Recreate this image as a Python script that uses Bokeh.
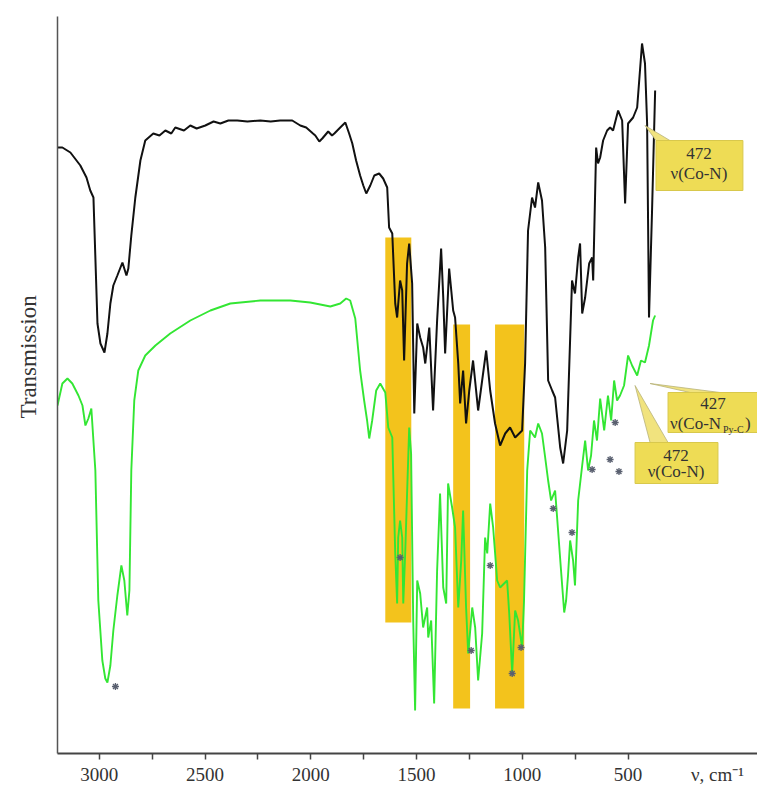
import math
from bokeh.plotting import figure
from bokeh.models import Range1d, FixedTicker, LinearAxis, Title
from bokeh.core.properties import value
from bokeh.embed import file_html
from bokeh.resources import INLINE

# ---- data (wavenumber, cm-1 ; transmission, arbitrary units) ----
black_wn = [3198,3175,3137,3090,3061,3043,3028,3009,2995,2976,2962,2948,2934,2915,2891,2872,2863,2849,2830,2806,
            2783,2745,2716,2688,2660,2641,2600,2570,2540,2499,2460,2428,2390,2348,2300,2239,2190,2145,2088,2050,
            2022,1990,1979,1960,1946,1918,1900,1889,1861,1837,1819,1804,1786,1767,1752,1738,1719,1700,1677,1658,
            1639,1630,1615,1601,1592,1578,1568,1559,1545,1535,1521,1511,1497,1483,1469,1459,1440,1422,1403,1384,
            1374,1365,1346,1327,1318,1303,1294,1280,1266,1251,1233,1209,1190,1171,1152,1129,1105,1081,1058,1034,
            1001,987,973,954,940,925,907,892,878,859,845,821,807,788,765,751,736,727,717,703,
            684,670,665,651,642,632,618,599,585,571,547,528,514,500,476,457,434,420,410,401,387,372]
black_t = [60.6,60.6,60.1,58.8,57.6,56.3,55.6,43.0,41.0,40.1,42.0,45.0,46.8,47.8,49.1,47.8,48.5,51.8,55.6,59.3,
           61.3,62.0,61.8,62.3,62.0,62.6,62.3,62.8,62.5,62.8,63.2,63.0,63.3,63.3,63.2,63.3,63.2,63.3,63.3,62.8,
           62.6,62.0,61.8,61.2,61.5,62.2,61.8,62.0,62.6,63.1,62.0,61.0,59.3,57.8,56.8,56.0,56.8,57.8,58.0,57.5,
           56.6,52.6,52.0,45.0,43.6,47.3,46.3,39.3,49.0,51.0,47.0,34.0,43.0,41.6,40.6,39.0,42.6,34.3,43.3,50.5,
           45.6,40.0,48.5,44.3,43.6,39.0,35.0,38.3,33.0,36.3,39.3,34.3,37.3,40.3,36.3,33.0,30.8,32.0,32.6,31.6,
           32.3,39.0,52.3,55.6,54.6,57.1,55.3,50.6,37.3,36.3,35.6,30.6,29.0,32.3,47.3,46.0,49.6,51.0,44.0,45.6,
           49.0,49.6,47.3,60.6,59.0,59.6,61.3,62.3,62.6,62.3,64.3,63.3,55.0,63.0,63.6,64.6,71.0,69.0,63.0,43.6,54.0,66.3]

green_wn = [3198,3175,3151,3128,3099,3080,3066,3052,3038,3019,3005,2986,2972,2962,2948,2934,2915,2896,2882,2868,
            2858,2849,2835,2816,2783,2735,2665,2570,2475,2381,2239,2097,2003,1908,1861,1833,1814,1790,1767,1748,
            1734,1724,1710,1691,1672,1648,1634,1615,1611,1601,1592,1587,1578,1568,1563,1554,1535,1526,1516,1507,
            1497,1483,1469,1450,1445,1431,1417,1403,1389,1374,1360,1351,1332,1318,1303,1289,1280,1266,1256,1237,
            1223,1209,1190,1176,1166,1152,1138,1119,1105,1072,1062,1048,1034,1020,1001,992,977,963,940,925,
            907,892,878,864,845,831,817,802,793,784,774,760,751,736,717,703,689,675,661,647,
            632,613,595,580,566,552,538,519,500,481,457,439,420,401,382,372]
green_t = [34.8,37.0,37.5,37.0,35.8,34.8,32.8,33.5,34.5,28.3,15.3,9.3,7.5,7.1,8.8,12.3,15.8,18.8,17.3,13.8,
           16.3,28.3,35.3,38.3,39.8,40.8,42.0,43.3,44.3,45.0,45.3,45.3,45.1,44.7,45.0,45.5,45.3,43.5,38.3,35.3,
           33.3,31.5,33.3,36.3,37.0,36.1,32.6,31.6,28.3,20.0,15.0,21.6,23.3,21.6,15.0,20.0,32.6,30.0,13.3,4.3,
           17.3,16.0,12.6,14.6,11.6,13.3,5.0,18.3,26.0,16.6,15.0,27.0,24.6,22.6,14.6,19.3,24.3,14.6,10.0,14.6,
           12.6,7.3,12.0,21.6,20.0,25.0,22.6,17.3,16.6,17.3,14.0,8.0,14.3,13.3,10.6,15.3,28.3,32.3,31.6,33.0,
           32.0,29.6,27.3,25.3,26.3,22.3,18.3,14.1,15.3,17.8,21.3,19.3,16.8,25.3,28.8,31.3,28.3,29.8,33.3,31.3,
           35.5,32.3,35.8,33.3,37.3,35.3,35.8,36.8,39.8,38.8,37.8,39.3,39.1,40.8,43.3,43.8]

star_wn = [2924,1578,1242,1152,1048,1006,854,765,670,585,561,543]
star_t = [6.7,19.6,10.3,18.8,8.0,10.6,24.5,22.1,28.4,29.4,33.1,28.2]

band_left = [1648,1327,1129]
band_right = [1525,1247,991]
band_top = [51.6,42.9,42.9]
band_bottom = [13.1,4.5,4.5]

major_ticks = [3000,2500,2000,1500,1000,500]
minor_ticks = [2750,2250,1750,1250,750]
unit_label_pos = 77
unit_label = "ν, cm⁻¹"

# callouts: target peak, box, texts
call_apex_wn = [420,396,467]
call_apex_t = [62.8,37.0,36.8]
call_base_wn1 = [368,207,396]
call_base_wn2 = [302,65,311]
box_left = [368,311,467]
box_right = [-43,-120,75]
box_top = [61.3,36.1,31.1]
box_bottom = [56.3,32.1,27.0]

SERIF = "Liberation Serif"

p = figure(width=757, height=789, x_range=Range1d(3198, -112), y_range=Range1d(0, 73.7),
           output_backend="svg", toolbar_location=None,
           min_border_left=57, min_border_right=0, min_border_top=16, min_border_bottom=36)
p.outline_line_color = None
p.xgrid.visible = False
p.ygrid.visible = False
p.background_fill_color = "white"
p.border_fill_color = "white"

# highlighted bands
p.quad(left=band_left, right=band_right, top=band_top, bottom=band_bottom,
       fill_color="#F3C31C", line_color=None)

# spectra
p.line(black_wn, black_t, line_color="#111111", line_width=2)
p.line(green_wn, green_t, line_color="#33E633", line_width=1.9)

# asterisks
p.scatter(star_wn, star_t, marker="asterisk", size=7, line_color="#5a6070", line_width=1.3)

# callout pointers
base_t = [box_top[0], box_top[1], box_top[2]]
xs = [[call_apex_wn[i], call_base_wn1[i], call_base_wn2[i]] for i in range(3)]
ys = [[call_apex_t[i], base_t[i], base_t[i]] for i in range(3)]
p.patches(xs, ys, fill_color="#F1E37E", line_color="#B8B27A", line_width=0.8)

# callout boxes
p.quad(left=box_left, right=box_right, top=box_top, bottom=box_bottom,
       fill_color="#EEDC55", line_color="#D8C84C", line_width=1)

fs = "17px"
p.text(x=[165, 165], y=[60.0, 58.0], text=["472", "ν(Co-N)"], text_font=value(SERIF),
       text_font_size=fs, text_color="#333333", text_align="center", text_baseline="middle")
p.text(x=[98], y=[35.0], text=["427"], text_font=value(SERIF),
       text_font_size=fs, text_color="#333333", text_align="center", text_baseline="middle")
p.text(x=[302], y=[33.0], text=["ν(Co-N"], text_font=value(SERIF),
       text_font_size=fs, text_color="#333333", text_align="left", text_baseline="middle")
p.text(x=[51], y=[32.4], text=["Py-C"], text_font=value(SERIF),
       text_font_size="10px", text_color="#333333", text_align="left", text_baseline="middle")
p.text(x=[-53], y=[33.0], text=[")"], text_font=value(SERIF),
       text_font_size=fs, text_color="#333333", text_align="left", text_baseline="middle")
p.text(x=[273, 273], y=[29.8, 28.2], text=["472", "ν(Co-N)"], text_font=value(SERIF),
       text_font_size=fs, text_color="#333333", text_align="center", text_baseline="middle")

# x axis (nearest the frame): axis line and tick marks only, no labels
xa = p.xaxis[0]
xa.ticker = FixedTicker(ticks=[], minor_ticks=major_ticks + minor_ticks)
xa.major_label_standoff = 0
xa.axis_line_width = 2
xa.axis_line_color = "#444444"
xa.major_tick_in = 0
xa.major_tick_out = 0
xa.minor_tick_in = 0
xa.minor_tick_out = 6
xa.minor_tick_line_color = "#444444"
xa.minor_tick_line_width = 1.5

# second x axis: tick labels and the unit label on the same row
xl = LinearAxis(ticker=FixedTicker(ticks=major_ticks + [unit_label_pos]),
                major_label_overrides={unit_label_pos: unit_label})
xl.axis_line_color = None
xl.major_tick_line_color = None
xl.minor_tick_line_color = None
xl.major_tick_out = 0
xl.major_tick_in = 0
xl.major_label_standoff = 4
xl.major_label_text_font = SERIF
xl.major_label_text_font_size = "19px"
xl.major_label_text_color = "#333333"
p.add_layout(xl, "below")

ya = p.yaxis[0]
ya.ticker = FixedTicker(ticks=[])
ya.major_tick_line_color = None
ya.minor_tick_line_color = None
ya.major_tick_out = 0
ya.major_tick_in = 0
ya.major_label_standoff = 0
ya.axis_line_color = "#555555"
ya.axis_line_width = 1.5

p.add_layout(Title(text="Transmission", align="left", vertical_align="top", offset=335, standoff=29,
                   text_font=SERIF, text_font_size="23px", text_font_style="normal",
                   text_color="#333333"), "left")

open("out.html", "w").write(file_html(p, INLINE))
